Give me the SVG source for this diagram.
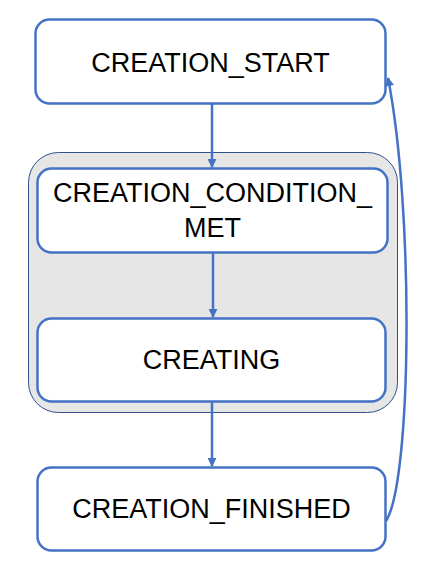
<svg xmlns="http://www.w3.org/2000/svg" width="430" height="574" viewBox="0 0 430 574">
<style>
.node{fill:#ffffff;stroke:#4472c4;stroke-width:2.5}
.grp{fill:#e6e6e6;stroke:#2f528f;stroke-width:1}
.lbl{font-family:"Liberation Sans",Arial,sans-serif;font-size:27px;fill:#000000;text-anchor:middle}
.conn{fill:none;stroke:#4472c4;stroke-width:2.5}
</style>
<defs>
<marker id="arr" viewBox="0 0 10 10" refX="9" refY="5" markerWidth="3.6" markerHeight="3.6" orient="auto" markerUnits="strokeWidth">
<path d="M0,0 L10,5 L0,10 z" fill="#4472c4"/>
</marker>
</defs>
<g id="group-creation">
<rect class="grp" x="28.5" y="152.5" width="369" height="260" rx="30"/>
</g>
<g id="node-start">
<rect class="node" x="35.5" y="19.5" width="350" height="84" rx="14"/>
<text class="lbl" x="210.5" y="71.5">CREATION_START</text>
</g>
<g id="node-condition">
<rect class="node" x="37.5" y="168.5" width="350" height="84" rx="14"/>
<text class="lbl" x="212.5" y="201.5">CREATION_CONDITION_</text>
<text class="lbl" x="212.5" y="236.5">MET</text>
</g>
<g id="node-creating">
<rect class="node" x="37.5" y="318.5" width="348" height="83" rx="14"/>
<text class="lbl" x="211.5" y="368.5">CREATING</text>
</g>
<g id="node-finished">
<rect class="node" x="37.5" y="467.5" width="348" height="83" rx="14"/>
<text class="lbl" x="211.5" y="517.5">CREATION_FINISHED</text>
</g>
<g id="connectors">
<line class="conn" x1="212" y1="104" x2="212" y2="167" marker-end="url(#arr)"/>
<line class="conn" x1="213" y1="253" x2="213" y2="317" marker-end="url(#arr)"/>
<line class="conn" x1="212" y1="402" x2="212" y2="466" marker-end="url(#arr)"/>
<path class="conn" d="M386,521 C412,480 414,210 388,78" marker-end="url(#arr)"/>
</g>
</svg>
